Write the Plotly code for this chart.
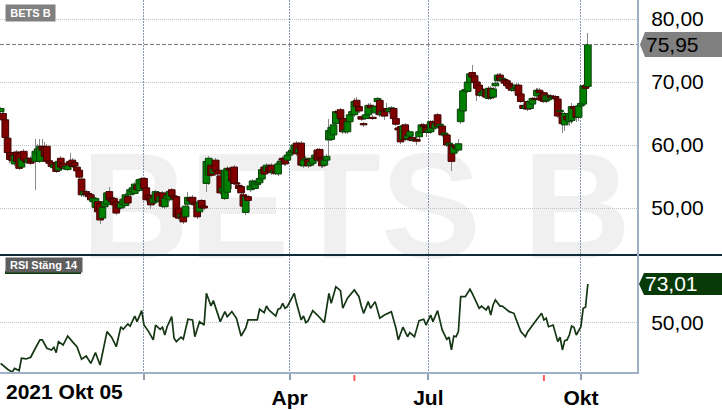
import plotly.graph_objects as go

W, H = 722, 410

# ---------------- data ----------------
open_ = [
    65.3, 65.0, 64.0, 61.1, 58.8, 58.4, 57.0, 58.9, 58.7, 56.5,
    59.0, 57.6, 57.3, 57.9, 57.8, 57.4, 58.6, 57.4, 59.8, 59.6,
    59.8, 57.5, 57.2, 56.4, 57.2, 56.0, 57.9, 57.1, 56.3, 56.1,
    57.4, 57.6, 57.2, 56.5, 56.0, 54.6, 52.1, 52.6, 52.3, 52.1,
    51.0, 50.1, 51.0, 50.7, 48.4, 50.2, 50.6, 52.6, 51.6, 51.5,
    51.0, 50.5, 50.0, 50.6, 50.4, 51.8, 52.1, 52.6, 52.3, 53.6,
    52.8, 53.8, 54.7, 53.2, 52.0, 52.0, 50.8, 51.0, 52.4, 51.0,
    52.4, 50.2, 51.5, 51.3, 52.9, 51.9, 51.8, 50.0, 48.6, 49.2,
    48.6, 50.6, 51.5, 51.7, 50.8, 50.9, 49.4, 51.2, 50.3, 53.9,
    55.2, 56.8, 55.5, 57.6, 56.0, 55.1, 52.6, 51.5, 52.5, 56.3,
    56.1, 56.5, 54.0, 53.6, 53.4, 52.1, 49.3, 51.8, 52.9, 53.6,
    53.1, 53.7, 54.0, 54.6, 56.5, 55.8, 56.5, 56.8, 55.6, 55.8,
    55.4, 57.0, 57.9, 57.9, 57.6, 58.4, 58.9, 58.8, 60.3, 58.8,
    60.3, 56.7, 57.6, 57.7, 56.8, 57.1, 57.9, 59.2, 59.3, 57.9,
    56.8, 57.6, 60.8, 60.9, 61.6, 63.4, 65.3, 65.6, 64.2, 62.1,
    62.1, 63.7, 64.8, 64.8, 67.1, 66.1, 64.5, 63.4, 64.2, 64.8,
    66.3, 64.4, 65.1, 66.9, 67.1, 64.8, 65.6, 65.8, 65.3, 65.7,
    65.8, 64.2, 62.7, 62.9, 60.9, 63.2, 61.0, 61.4, 61.2, 60.7,
    60.9, 61.3, 62.0, 63.2, 62.8, 62.0, 62.1, 63.7, 62.7, 64.8,
    63.0, 63.0, 61.6, 61.6, 60.0, 60.0, 58.7, 59.8, 59.2, 63.7,
    65.4, 68.6, 68.5, 69.9, 71.5, 71.0, 70.0, 69.5, 67.9, 68.2,
    68.8, 67.4, 69.0, 67.6, 69.4, 70.2, 71.1, 70.3, 70.4, 70.2,
    69.8, 69.5, 68.7, 69.0, 69.5, 68.1, 66.3, 65.8, 66.9, 65.8,
    66.5, 67.4, 67.8, 68.7, 67.9, 68.3, 67.0, 67.2, 67.8, 67.5,
    67.7, 67.3, 65.3, 65.0, 63.2, 64.6, 63.7, 63.9, 66.1, 66.1,
    64.4, 66.2, 66.5, 69.4, 69.3,
]
close = [
    65.8, 64.0, 61.2, 58.8, 57.7, 57.5, 58.4, 57.4, 56.3, 57.9,
    57.6, 57.3, 57.8, 57.1, 57.4, 59.0, 59.4, 59.8, 59.2, 58.2,
    57.4, 57.1, 56.6, 56.9, 55.8, 57.4, 56.5, 56.3, 56.6, 56.7,
    56.9, 56.6, 56.7, 55.9, 54.9, 52.1, 52.6, 52.2, 51.8, 51.3,
    51.6, 51.5, 49.4, 48.1, 50.1, 51.0, 52.4, 51.3, 51.0, 50.5,
    49.2, 50.0, 50.8, 51.4, 52.1, 50.8, 52.9, 53.2, 53.8, 52.9,
    54.5, 54.6, 53.1, 51.3, 51.4, 50.5, 51.6, 52.6, 51.2, 51.8,
    50.3, 51.5, 52.0, 52.6, 51.9, 51.5, 48.6, 48.4, 49.0, 47.8,
    50.3, 51.7, 51.2, 50.8, 50.5, 48.6, 50.9, 50.0, 50.0, 57.4,
    57.9, 55.2, 56.2, 55.8, 55.4, 52.4, 53.2, 56.0, 56.3, 56.0,
    54.3, 53.9, 53.8, 53.1, 52.4, 50.3, 51.8, 51.2, 53.5, 54.3,
    54.2, 54.0, 54.7, 56.1, 55.4, 56.8, 55.8, 55.6, 55.9, 55.5,
    57.0, 57.4, 57.6, 57.0, 58.4, 58.9, 59.2, 60.0, 58.6, 59.4,
    56.8, 57.6, 57.9, 56.7, 57.3, 57.9, 58.4, 57.6, 58.0, 56.7,
    57.6, 58.2, 62.3, 62.8, 63.2, 65.3, 65.1, 64.2, 62.1, 62.4,
    63.7, 64.8, 65.3, 66.9, 66.1, 65.4, 64.1, 63.2, 64.8, 66.3,
    65.9, 64.2, 66.1, 67.4, 64.8, 65.3, 64.6, 65.3, 65.7, 65.9,
    64.2, 63.3, 62.4, 60.5, 63.0, 60.9, 61.5, 62.1, 60.7, 60.9,
    60.6, 62.1, 63.2, 62.9, 62.0, 62.4, 63.7, 62.7, 63.4, 63.0,
    63.3, 61.6, 61.9, 60.0, 60.3, 57.4, 59.8, 59.5, 60.2, 65.7,
    68.6, 68.8, 70.0, 71.3, 70.8, 70.0, 69.0, 67.9, 68.3, 68.7,
    67.6, 69.0, 67.5, 68.9, 69.8, 71.1, 70.3, 70.6, 69.8, 69.4,
    69.0, 68.7, 69.0, 69.5, 67.9, 66.9, 65.8, 66.2, 65.7, 66.9,
    67.4, 67.2, 68.7, 68.3, 67.1, 66.9, 67.9, 67.8, 67.5, 67.7,
    67.4, 64.6, 65.5, 63.4, 65.0, 64.0, 65.0, 66.1, 65.8, 64.4,
    66.2, 66.6, 69.4, 69.0, 75.95,
]
high = [
    66.0, 65.4, 64.2, 61.3, 59.0, 58.8, 58.7, 59.2, 58.9, 58.2,
    59.4, 58.0, 58.1, 58.3, 58.0, 60.9, 60.2, 60.9, 61.0, 60.4,
    60.1, 57.8, 57.5, 57.2, 57.5, 57.7, 58.2, 57.4, 56.9, 57.0,
    58.7, 57.9, 57.4, 56.8, 56.3, 54.9, 53.3, 52.9, 52.6, 52.4,
    51.9, 51.8, 51.3, 51.0, 50.4, 51.3, 52.7, 53.3, 51.9, 51.8,
    51.3, 50.8, 51.1, 51.7, 52.4, 52.1, 53.4, 53.5, 54.1, 53.9,
    54.8, 55.0, 55.0, 53.5, 52.3, 52.3, 51.9, 52.9, 52.7, 52.1,
    52.7, 51.8, 52.3, 52.9, 53.2, 52.2, 52.1, 50.3, 49.3, 49.5,
    50.6, 52.5, 51.8, 52.0, 51.1, 51.2, 51.2, 51.5, 50.6, 57.8,
    58.3, 57.1, 56.5, 57.9, 56.3, 55.4, 53.5, 56.3, 56.6, 56.5,
    56.4, 56.8, 54.3, 53.9, 53.7, 52.4, 52.1, 52.1, 53.8, 54.6,
    54.5, 54.3, 55.0, 56.4, 56.8, 57.1, 56.8, 57.1, 56.2, 56.1,
    57.8, 57.7, 58.2, 58.2, 58.7, 59.2, 59.5, 60.3, 60.6, 59.7,
    60.6, 57.9, 58.2, 58.0, 57.6, 58.2, 58.7, 59.5, 59.6, 58.2,
    57.9, 58.5, 64.2, 63.1, 63.5, 65.6, 65.6, 65.9, 64.5, 62.7,
    64.0, 65.1, 65.6, 67.4, 67.6, 66.4, 64.8, 63.7, 65.1, 66.6,
    66.6, 64.7, 66.4, 67.7, 67.4, 65.6, 65.9, 66.7, 66.0, 66.2,
    66.1, 64.5, 63.0, 63.2, 63.3, 63.5, 61.8, 62.4, 61.5, 61.2,
    61.2, 62.4, 63.5, 63.5, 63.1, 62.7, 64.0, 64.0, 63.7, 65.1,
    63.6, 63.3, 62.2, 61.9, 60.6, 60.3, 60.1, 60.1, 61.0, 66.0,
    68.9, 69.1, 70.3, 71.6, 72.7, 71.3, 70.3, 69.8, 68.6, 69.0,
    69.1, 69.3, 69.3, 69.2, 70.1, 71.4, 71.4, 70.9, 70.7, 70.5,
    70.1, 69.8, 69.3, 69.8, 69.8, 68.4, 66.6, 66.5, 67.2, 67.2,
    67.7, 67.7, 69.0, 69.0, 68.2, 68.6, 68.2, 68.1, 68.1, 68.0,
    68.0, 67.6, 65.8, 65.3, 65.3, 64.9, 65.3, 66.6, 66.4, 66.4,
    66.5, 66.9, 69.7, 69.7, 77.8,
]
low = [
    65.1, 63.8, 61.0, 58.5, 57.2, 57.0, 56.6, 57.1, 56.0, 56.3,
    57.3, 57.0, 57.1, 56.9, 57.1, 52.9, 58.3, 57.2, 58.9, 57.9,
    57.1, 56.8, 56.3, 56.1, 55.5, 55.8, 56.2, 56.0, 56.1, 55.9,
    56.6, 56.3, 56.4, 55.6, 54.5, 51.8, 51.8, 51.9, 51.5, 51.0,
    50.7, 49.8, 49.1, 47.5, 48.0, 49.9, 50.3, 51.0, 50.7, 50.2,
    48.9, 49.7, 49.7, 50.3, 50.1, 50.5, 51.9, 52.4, 52.0, 52.6,
    52.5, 53.5, 52.8, 51.0, 51.1, 49.8, 50.5, 50.7, 50.9, 50.7,
    50.0, 49.9, 51.2, 51.0, 51.6, 51.2, 48.3, 48.1, 48.3, 47.5,
    48.3, 50.3, 50.9, 50.5, 50.2, 48.3, 49.1, 49.7, 49.7, 52.5,
    53.6, 54.9, 55.2, 55.1, 54.5, 52.1, 52.3, 51.2, 52.2, 55.6,
    53.0, 53.6, 53.5, 52.8, 51.0, 50.0, 48.9, 50.9, 52.6, 53.3,
    52.8, 53.4, 53.7, 54.3, 55.1, 55.5, 55.5, 55.3, 55.3, 55.2,
    55.1, 56.7, 57.3, 56.7, 57.3, 58.1, 58.6, 58.5, 58.3, 58.5,
    56.5, 56.4, 57.3, 56.4, 56.5, 56.8, 57.6, 57.3, 57.7, 56.4,
    56.5, 57.3, 57.8, 60.6, 61.3, 63.1, 64.8, 63.9, 61.8, 61.8,
    61.8, 63.4, 64.5, 64.5, 65.8, 65.1, 63.8, 62.9, 63.9, 64.5,
    65.6, 63.9, 64.8, 66.6, 64.5, 64.5, 64.0, 65.0, 65.0, 65.4,
    63.9, 63.0, 62.1, 60.2, 60.6, 60.6, 60.7, 61.1, 60.4, 60.4,
    60.0, 61.0, 61.7, 62.6, 61.2, 61.7, 61.8, 62.4, 62.4, 62.7,
    62.7, 61.3, 61.3, 59.7, 59.7, 55.8, 58.4, 59.2, 58.9, 63.4,
    65.1, 68.3, 68.2, 69.6, 70.5, 69.7, 67.0, 67.6, 67.6, 67.9,
    67.3, 67.1, 67.2, 67.3, 69.1, 69.9, 70.0, 70.0, 69.5, 69.1,
    68.7, 68.4, 68.4, 68.7, 67.6, 66.6, 65.5, 65.5, 65.4, 65.5,
    66.2, 66.9, 67.5, 68.0, 66.8, 66.6, 66.7, 66.9, 67.2, 67.2,
    67.1, 64.3, 65.0, 61.9, 62.2, 63.2, 63.0, 63.3, 65.5, 63.6,
    63.8, 65.9, 66.2, 68.7, 69.0,
]

rsi_idx = [
    0, 3, 5, 6, 8, 9, 11, 13, 15, 17, 18, 20, 22, 23, 24, 25, 27, 29, 31, 33,
    35, 37, 39, 41, 43, 46, 48, 50, 52, 53, 55, 56, 58, 59, 61, 62, 64, 66, 67, 69,
    70, 71, 72, 74, 75, 76, 78, 79, 81, 83, 84, 86, 88, 89, 91, 92, 95, 97, 98, 100,
    102, 104, 106, 107, 111, 112, 114, 115, 116, 119, 120, 121, 122, 123, 124, 127, 128, 129, 130, 131,
    132, 133, 135, 137, 138, 140, 142, 143, 145, 147, 148, 150, 153, 155, 156, 157, 159, 160, 162, 164,
    166, 169, 171, 172, 174, 176, 177, 179, 181, 183, 184, 186, 187, 189, 191, 193, 194, 195, 196, 197,
    198, 199, 201, 203, 204, 207, 208, 210, 211, 212, 213, 214, 216, 217, 220, 222, 225, 227, 228, 230,
    232, 234, 235, 236, 237, 239, 241, 242, 243, 244, 245, 246, 247, 248, 249, 251, 252, 253, 254,
]
rsi_val = [
    26.2, 22.7, 21.0, 23.3, 21.9, 29.2, 28.8, 29.8, 35.1, 40.0, 40.0, 35.1, 34.1, 35.7, 32.5, 39.0, 37.0, 42.3, 39.0, 36.0,
    28.6, 30.5, 26.2, 32.5, 25.2, 44.9, 41.6, 36.0, 47.8, 46.3, 49.4, 48.2, 54.1, 50.8, 57.3, 48.8, 44.9, 40.0, 48.8, 46.3,
    47.5, 42.9, 47.8, 53.7, 41.0, 39.0, 41.6, 40.4, 52.2, 51.8, 41.9, 50.8, 48.8, 67.5, 60.0, 63.2, 50.8, 56.7, 53.7, 56.7,
    52.8, 42.3, 46.9, 51.8, 51.8, 58.1, 56.1, 60.0, 57.7, 54.1, 58.1, 58.7, 61.6, 58.7, 59.6, 67.5, 61.6, 56.7, 51.8, 54.1,
    50.2, 51.4, 57.3, 54.7, 53.4, 50.2, 67.5, 61.6, 71.4, 69.1, 58.7, 64.6, 69.5, 65.5, 60.0, 55.7, 62.6, 58.7, 62.6, 52.8,
    54.7, 56.7, 46.9, 40.0, 47.5, 41.9, 44.3, 41.9, 51.4, 52.2, 48.8, 54.7, 50.8, 57.3, 45.9, 40.4, 41.6, 34.1, 42.3, 41.9,
    44.9, 65.5, 65.5, 69.9, 67.5, 58.7, 60.0, 57.7, 60.0, 54.7, 60.6, 63.6, 60.0, 60.0, 56.7, 55.7, 44.9, 41.9, 44.9, 48.8,
    52.2, 55.7, 51.8, 52.8, 47.8, 48.8, 39.0, 41.6, 34.1, 39.6, 40.0, 42.9, 48.2, 47.5, 42.9, 47.8, 58.7, 59.3, 73.01,
]

tick_idx = [62, 125, 185, 251]          # Jan, Apr, Jul, Okt (trading-day index)
tick_text = ["", "Apr", "Jul", "Okt"]
start_label = "2021 Okt 05"
price_ticks = [50, 60, 70, 80]
rsi_ticks = [50]
marker_idx = [153, 235]                 # red event ticks on the time axis
title_tag = "BETS B"
rsi_tag = "RSI Stäng 14"

# ---------------- layout helpers ----------------
FONT = "Liberation Sans"
def PX(px): return px / W
def PY(py): return 1 - py / H

XD = PX(638)
main_dom = [PY(255), 1.0]
rsi_dom = [PY(373), PY(255)]
x_range = [-0.29, 275.7]
y_range = [42.54, 83.02]
r_range = [20.5, 90.1]

def main_to_paper(v):
    return main_dom[0] + (v - y_range[0]) / (y_range[1] - y_range[0]) * (main_dom[1] - main_dom[0])
def rsi_to_paper(v):
    return rsi_dom[0] + (v - r_range[0]) / (r_range[1] - r_range[0]) * (rsi_dom[1] - rsi_dom[0])

def fmt(v):
    return f"{v:.2f}".replace(".", ",")

n = len(close)
xs = list(range(n))
up = [c >= o for o, c in zip(open_, close)]
body_fill = ["#008000" if u else "#800000" for u in up]
body_line = ["#0b3f0b" if u else "#3f0000" for u in up]

fig = go.Figure()

# wicks
fig.add_trace(go.Bar(
    x=xs, y=[h - l for h, l in zip(high, low)], base=low,
    width=0.45, marker=dict(color="#8a8a8a", line=dict(width=0)),
    xaxis="x2", yaxis="y", hoverinfo="skip",
))
# bodies
fig.add_trace(go.Bar(
    x=xs, y=[c - o for o, c in zip(open_, close)], base=open_,
    width=2.9, marker=dict(color=body_fill, line=dict(color=body_line, width=1)),
    xaxis="x2", yaxis="y", hoverinfo="skip",
))
# RSI
fig.add_trace(go.Scatter(
    x=rsi_idx, y=rsi_val, mode="lines",
    line=dict(color="#143614", width=1.7),
    xaxis="x", yaxis="y2", hoverinfo="skip",
))

vgrid = dict(showgrid=True, gridcolor="#8796a6", gridwidth=1, griddash="2px,1px")
hgrid = dict(showgrid=True, gridcolor="#bcc4cc", gridwidth=1, griddash="1px,1px")
label_font = dict(family=FONT, size=21, color="#000000")

fig.update_layout(
    width=W, height=H, margin=dict(l=0, r=0, t=0, b=0),
    paper_bgcolor="white", plot_bgcolor="white",
    showlegend=False, barmode="overlay", bargap=0,
    xaxis=dict(domain=[0, XD], anchor="y2", range=x_range,
               tickmode="array", tickvals=tick_idx, ticktext=tick_text,
               ticks="outside", ticklen=6, tickwidth=2, tickcolor="#8fa0b2",
               tickfont=dict(family=FONT, size=21, color="#000000", weight="bold"),
               zeroline=False, showline=False, fixedrange=True, **vgrid),
    xaxis2=dict(domain=[0, XD], anchor="y", matches="x", range=x_range,
                tickmode="array", tickvals=tick_idx, showticklabels=False, ticks="",
                zeroline=False, showline=False, fixedrange=True, **vgrid),
    yaxis=dict(domain=main_dom, anchor="x2", side="right", range=y_range,
               tickmode="array", tickvals=price_ticks, ticktext=[fmt(v) for v in price_ticks],
               ticks="outside", ticklen=8, tickcolor="rgba(0,0,0,0)",
               tickfont=label_font, zeroline=False, showline=False, fixedrange=True, **hgrid),
    yaxis2=dict(domain=rsi_dom, anchor="x", side="right", range=r_range,
                tickmode="array", tickvals=rsi_ticks, ticktext=[fmt(v) for v in rsi_ticks],
                ticks="outside", ticklen=8, tickcolor="rgba(0,0,0,0)",
                tickfont=label_font, zeroline=False, showline=False, fixedrange=True, **hgrid),
)

shapes = []
# watermark
shapes.append(dict(type="rect", xref="paper", yref="paper",
                   x0=PX(156), x1=PX(556), y0=PY(242), y1=PY(142),
                   line=dict(width=0), fillcolor="rgba(0,0,0,0)", layer="below",
                   label=dict(text=title_tag, textposition="middle center",
                              font=dict(family=FONT, size=150, color="#f0f0f0", weight="bold"))))
# last price dashed line
shapes.append(dict(type="line", xref="paper", yref="y", x0=0, x1=XD,
                   y0=close[-1], y1=close[-1], line=dict(color="#7a7a7a", width=1, dash="4px,2px")))
# panel separator
shapes.append(dict(type="line", xref="paper", yref="paper", x0=0, x1=1,
                   y0=PY(255), y1=PY(255), line=dict(color="#0f2b3b", width=2)))
# right border and bottom axis line
shapes.append(dict(type="line", xref="paper", yref="paper", x0=XD, x1=XD,
                   y0=PY(374), y1=1, line=dict(color="#9fb1c6", width=2)))
shapes.append(dict(type="line", xref="paper", yref="paper", x0=0, x1=XD,
                   y0=PY(373), y1=PY(373), line=dict(color="#9fb1c6", width=2)))
# red event ticks
for m in marker_idx:
    shapes.append(dict(type="line", xref="x", yref="paper", x0=m, x1=m,
                       y0=PY(375), y1=PY(381), line=dict(color="#ff5a5a", width=2)))

# price tag (last close)
yp = main_to_paper(close[-1])
hh = 12.5 / H
shapes.append(dict(type="path", xref="paper", yref="paper",
                   path=f"M {PX(640)},{yp} L {PX(645)},{yp+hh} L 1,{yp+hh} L 1,{yp-hh} L {PX(645)},{yp-hh} Z",
                   fillcolor="#808080", line=dict(width=0)))
# RSI tag
yr_ = rsi_to_paper(rsi_val[-1])
hr = 11 / H
shapes.append(dict(type="path", xref="paper", yref="paper",
                   path=f"M {PX(639)},{yr_} L {PX(644)},{yr_+hr} L 1,{yr_+hr} L 1,{yr_-hr} L {PX(644)},{yr_-hr} Z",
                   fillcolor="#083a08", line=dict(width=0)))
# RSI label green underline
shapes.append(dict(type="rect", xref="paper", yref="paper",
                   x0=PX(5), x1=PX(81), y0=PY(274), y1=PY(271),
                   fillcolor="#0b3b0b", line=dict(width=0)))
fig.update_layout(shapes=shapes)

annotations = [
    dict(text=title_tag, xref="paper", yref="paper", x=PX(5), y=PY(4),
         xanchor="left", yanchor="top", showarrow=False, bgcolor="#808080",
         width=47, height=14, borderpad=1, align="center",
         font=dict(family=FONT, size=11, color="white", weight="bold")),
    dict(text=rsi_tag, xref="paper", yref="paper", x=PX(5), y=PY(257),
         xanchor="left", yanchor="top", showarrow=False, bgcolor="#5e5e5e",
         width=74, height=12, borderpad=1, align="center",
         font=dict(family=FONT, size=11, color="white", weight="bold")),
    dict(text=fmt(close[-1]), xref="paper", yref="paper", x=PX(672), y=yp,
         xanchor="center", yanchor="middle", showarrow=False,
         font=dict(family=FONT, size=21, color="#000000")),
    dict(text=fmt(rsi_val[-1]), xref="paper", yref="paper", x=PX(671), y=yr_,
         xanchor="center", yanchor="middle", showarrow=False,
         font=dict(family=FONT, size=21, color="white")),
    dict(text=start_label, xref="paper", yref="paper", x=PX(4), y=PY(391),
         xanchor="left", yanchor="middle", showarrow=False,
         font=dict(family=FONT, size=21, color="#000000", weight="bold")),
]
fig.update_layout(annotations=annotations)

fig.write_html("out.html",
               config={"displayModeBar": False, "staticPlot": True},
               post_script="document.body.style.margin='0';document.body.style.padding='0';")
